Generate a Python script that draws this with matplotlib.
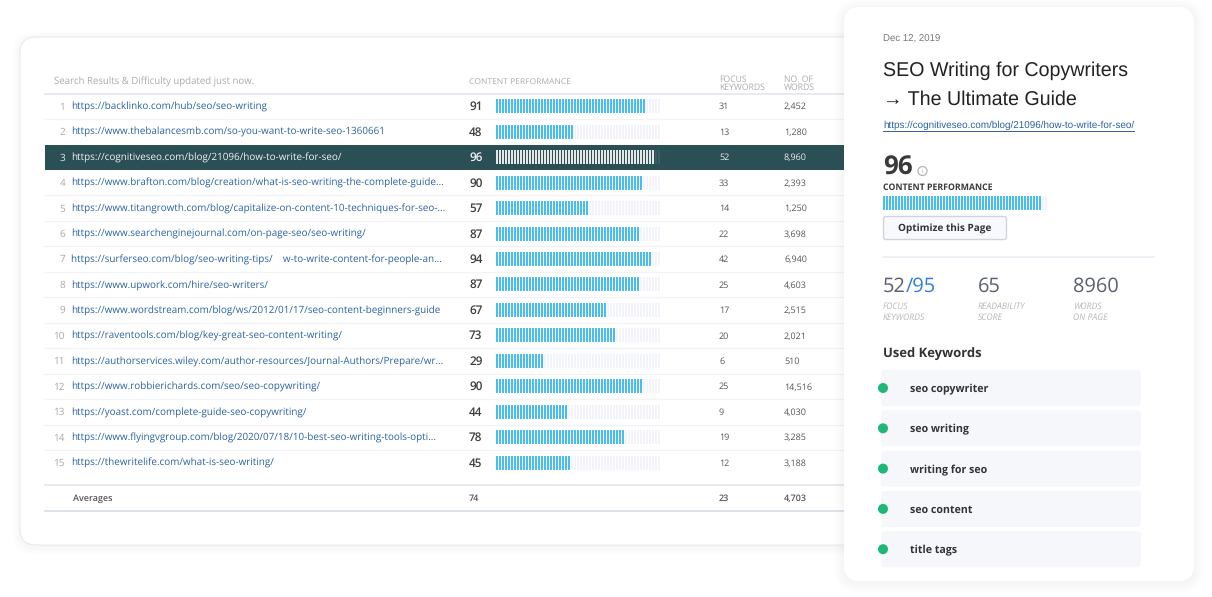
import matplotlib
matplotlib.use("Agg")
import matplotlib.pyplot as plt
from matplotlib.patches import FancyBboxPatch, Rectangle, Circle

plt.rcParams["text.hinting"] = "no_hinting"

urls = [
    "https://backlinko.com/hub/seo/seo-writing",
    "https://www.thebalancesmb.com/so-you-want-to-write-seo-1360661",
    "https://cognitiveseo.com/blog/21096/how-to-write-for-seo/",
    "https://www.brafton.com/blog/creation/what-is-seo-writing-the-complete-guide...",
    "https://www.titangrowth.com/blog/capitalize-on-content-10-techniques-for-seo-...",
    "https://www.searchenginejournal.com/on-page-seo/seo-writing/",
    "https://surferseo.com/blog/seo-writing-tips/    w-to-write-content-for-people-an...",
    "https://www.upwork.com/hire/seo-writers/",
    "https://www.wordstream.com/blog/ws/2012/01/17/seo-content-beginners-guide",
    "https://raventools.com/blog/key-great-seo-content-writing/",
    "https://authorservices.wiley.com/author-resources/Journal-Authors/Prepare/wr...",
    "https://www.robbierichards.com/seo/seo-copywriting/",
    "https://yoast.com/complete-guide-seo-copywriting/",
    "https://www.flyingvgroup.com/blog/2020/07/18/10-best-seo-writing-tools-opti...",
    "https://thewritelife.com/what-is-seo-writing/",
]
performance = [91, 48, 96, 90, 57, 87, 94, 87, 67, 73, 29, 90, 44, 78, 45]
focus_keywords = [31, 13, 52, 33, 14, 22, 42, 25, 17, 20, 6, 25, 9, 19, 12]
word_counts = [2452, 1280, 8960, 2393, 1250, 3698, 6940, 4603, 2515, 2021, 510, 14516, 4030, 3285, 3188]
avg_performance, avg_keywords, avg_words = 74, 23, 4703
selected_performance = 96
used_keywords = ["seo copywriter", "seo writing", "writing for seo", "seo content", "title tags"]

W, H = 1212, 597
OS = "Open Sans"
AR = "Liberation Sans"
LINK = "#2a62a0"
DARK = "#3d3d3d"
BLUE = "#48bdf3"
TEAL = "#2a4f55"
PX = 0.72  # font px -> pt at dpi 100

fig = plt.figure(figsize=(W / 100, H / 100), dpi=100, facecolor="white")
ax = fig.add_axes([0, 0, 1, 1])
ax.set_xlim(0, W)
ax.set_ylim(H, 0)
ax.axis("off")


def card(x0, y0, x1, y1, r, z, shadow=8, edge="none"):
    for i in range(shadow, 0, -1):
        ax.add_patch(FancyBboxPatch((x0 - i, y0 - i + 2), x1 - x0 + 2 * i, y1 - y0 + 2 * i,
                                    boxstyle=f"round,pad=0,rounding_size={r + i}",
                                    fc="#8090a8", ec="none", alpha=0.006, zorder=z))
    ax.add_patch(FancyBboxPatch((x0, y0), x1 - x0, y1 - y0,
                                boxstyle=f"round,pad=0,rounding_size={r}",
                                fc="white", ec=edge, lw=0.7, zorder=z + 0.1))


def txt(x, y, s, px, color=DARK, weight="normal", fam=OS, ha="left", style="normal", z=5):
    return ax.text(x, y + 0.8, s, fontsize=px * PX, color=color, fontweight=weight, family=fam,
                   ha=ha, va="center", style=style, zorder=z)


def meter(x0, yc, h, value, color, track, z=4):
    """Segmented meter: one tick every 3 px, filled up to value."""
    scale = 1.65
    n = int(round(100 * scale / 3))
    for k in range(n):
        x = x0 + k * 3
        filled = (k * 3 + 2) <= value * scale
        ax.add_patch(Rectangle((x, yc - h / 2), 2, h, fc=color if filled else track,
                               ec="none", zorder=z))


# ---- left card
card(20, 37, 900, 545, 16, 1, edge="#e6e8ee")

txt(54, 81.5, "Search Results & Difficulty updated just now.", 9.6, "#ababab")
txt(469, 81.5, "CONTENT PERFORMANCE", 8.5, "#ababab")
txt(719, 78.5, "FOCUS", 8.6, "#ababab")
txt(719, 87, "KEYWORDS", 8.6, "#ababab")
txt(784, 78.5, "NO. OF", 8.6, "#ababab")
txt(784, 87, "WORDS", 8.6, "#ababab")
ax.plot([45, 845], [94, 94], color="#e2e7f0", lw=1.2, zorder=2)

ROW0, STEP = 106.2, 25.46
for i, (u, p, f, w) in enumerate(zip(urls, performance, focus_keywords, word_counts)):
    y = ROW0 + i * STEP
    sel = i == 2
    if sel:
        ax.add_patch(Rectangle((45, y - 12.2), 800, 25, fc=TEAL, ec="none", zorder=2))
    elif i < 14 and i != 1:
        ax.plot([45, 845], [y + 12.8, y + 12.8], color="#f2f3f6", lw=0.9, zorder=2)
    txt(65, y, str(i + 1), 10, "#e8e8e8" if sel else "#a8a8a8", ha="right")
    txt(71.3, y, u, 9.93, "#f2f2f2" if sel else LINK)
    txt(469, y, str(p), 11.8, "#f2f2f2" if sel else DARK, weight="semibold")
    meter(495.5, y, 14, p, "#e6e6e6" if sel else BLUE, "#3a5c62" if sel else "#f2f4fa")
    txt(719, y, str(f), 9, "#f2f2f2" if sel else "#555555")
    txt(784, y, f"{w:,}", 9, "#f2f2f2" if sel else "#555555")

ax.plot([45, 845], [485, 485], color="#e0e5ee", lw=1.2, zorder=2)
ax.plot([45, 845], [510.5, 510.5], color="#d5dbe6", lw=1.2, zorder=2)
txt(73, 497.5, "Averages", 9, "#555555", weight="semibold")
txt(469, 497.5, str(avg_performance), 9, "#555555", weight="semibold")
txt(719, 497.5, str(avg_keywords), 9, "#555555", weight="semibold")
txt(784, 497.5, f"{avg_words:,}", 9, "#555555", weight="semibold")

# ---- right card
card(844, 7, 1194, 581, 16, 6, shadow=10)
Z = 8
txt(883, 38.5, "Dec 12, 2019", 9.7, "#777777", fam=AR, z=Z)
txt(883, 69.5, "SEO Writing for Copywriters", 19.7, "#222222", fam=AR, z=Z)
txt(883, 98.5, "\u2192 The Ultimate Guide", 19.7, "#222222", fam=[AR, "DejaVu Sans"], z=Z)
txt(883, 125, "https://cognitiveseo.com/blog/21096/how-to-write-for-seo/", 9.93, LINK, fam=AR, z=Z)
ax.plot([883, 1134], [130.8, 130.8], color=LINK, lw=0.7, zorder=Z)

txt(883, 167, str(selected_performance), 26, "#3a3a3a", weight="bold", z=Z)
ax.add_patch(Circle((922.5, 171), 4.5, fc="white", ec="#b5b5b5", lw=0.9, zorder=Z))
txt(922.5, 170.5, "i", 6.5, "#a0a0a0", ha="center", z=Z + 1)
txt(883, 187, "CONTENT PERFORMANCE", 8.8, "#3a3a3a", weight="bold", z=Z)
meter(883, 203, 14, selected_performance, BLUE, "#f2f4fa", z=Z)

ax.add_patch(FancyBboxPatch((883.5, 216.5), 123, 23, boxstyle="round,pad=0,rounding_size=2.5",
                            fc="#f8f9fc", ec="#cfd4e0", lw=1, zorder=Z))
txt(945, 228, "Optimize this Page", 10, "#333333", weight="bold", ha="center", z=Z + 1)
ax.plot([883, 1154], [257, 257], color="#eceef3", lw=1.2, zorder=Z)

STAT = "#5b5e70"
t = txt(883, 285.5, "52", 20, STAT, z=Z)
ax.annotate("/95", xy=(1, 0.5), xycoords=t, va="center", ha="left", fontsize=20 * PX,
            family=OS, color="#2f7fd8", zorder=Z)
txt(978, 285.5, "65", 20, STAT, z=Z)
txt(1073, 285.5, "8960", 20, STAT, z=Z)
for x, a, b in [(883, "FOCUS", "KEYWORDS"), (978, "READABILITY", "SCORE"), (1073, "WORDS", "ON PAGE")]:
    txt(x, 305.5, a, 8.6, "#b8b8b8", style="italic", z=Z)
    txt(x, 316.5, b, 8.6, "#b8b8b8", style="italic", z=Z)

txt(883, 353.5, "Used Keywords", 13, "#333333", weight="bold", z=Z)
for i, k in enumerate(used_keywords):
    y = 388 + i * 40.3
    ax.add_patch(FancyBboxPatch((881, y - 18), 260, 36, boxstyle="round,pad=0,rounding_size=4",
                                fc="#f6f7fb", ec="none", zorder=Z))
    ax.add_patch(Circle((883, y), 5, fc="#1db877", ec="none", zorder=Z + 1))
    txt(910, y + 0.8, k, 10.6, "#333333", weight="bold", z=Z + 1)

fig.savefig("out.png", dpi=100, facecolor="white")
